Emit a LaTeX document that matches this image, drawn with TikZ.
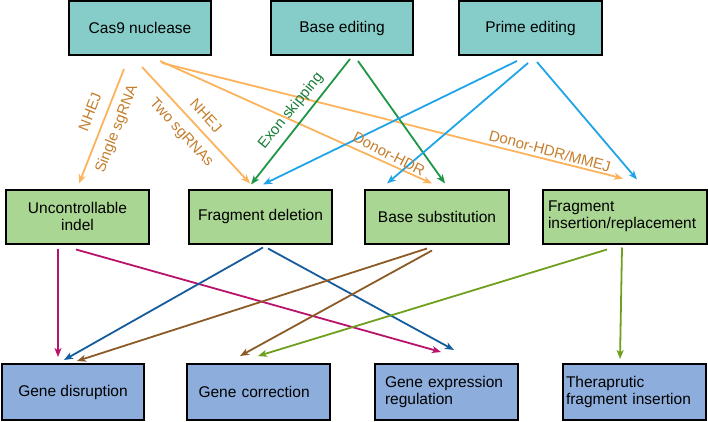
\documentclass[tikz,border=0pt]{standalone}
\usepackage{fontspec}
\setmainfont{Liberation Sans}
\usetikzlibrary{arrows.meta}
\definecolor{topfill}{HTML}{86CDCA}
\definecolor{midfill}{HTML}{A9D692}
\definecolor{botfill}{HTML}{8DAEDC}
\definecolor{corange}{HTML}{FBB45C}
\definecolor{lorange}{HTML}{C47E2C}
\definecolor{cgreen}{HTML}{1E9646}
\definecolor{lgreen}{HTML}{1A7E3A}
\definecolor{cblue}{HTML}{20A4E8}
\definecolor{cmag}{HTML}{B8126A}
\definecolor{cdblue}{HTML}{145C9C}
\definecolor{cbrown}{HTML}{8B5A25}
\definecolor{colive}{HTML}{6E9F1E}
\tikzset{
  box/.style={draw=black, line width=2pt, minimum height=54pt, inner sep=0pt,
    font=\fontsize{15.5}{17.5}\selectfont, align=center},
  topbox/.style={box, fill=topfill},
  midbox/.style={box, fill=midfill},
  botbox/.style={box, fill=botfill},
  conn/.style={line width=1.8pt, -{Stealth[length=9pt,width=7pt,inset=2.5pt]}},
  lbl/.style={font=\fontsize{15}{17}\selectfont, inner sep=0pt},
}
\begin{document}
\begin{tikzpicture}[x=1pt,y=-1pt]
\useasboundingbox (0,0) rectangle (708,422);
% top
\node[topbox, minimum width=142pt] (cas) at (140,28) {Cas9 nuclease};
\node[topbox, minimum width=142pt] (base) at (342,28) {Base editing};
\node[topbox, minimum width=143pt] (prime) at (530.5,28) {Prime editing};
% middle
\node[midbox, minimum width=143pt] (unc) at (77.5,216.5) {Uncontrollable\\indel};
\node[midbox, minimum width=143pt] (del) at (260.5,216.5) {Fragment deletion};
\node[midbox, minimum width=144pt] (sub) at (437,216.5) {Base substitution};
\node[midbox, minimum width=164pt, align=left, text width=154pt] (ins) at (625,216.5) {Fragment\\insertion/replacement};
% bottom
\node[botbox, minimum width=142pt, minimum height=56pt] (dis) at (73,392) {Gene disruption};
\node[botbox, minimum width=143pt, minimum height=56pt, align=left, text width=120pt] (cor) at (258.5,392) {Gene correction};
\node[botbox, minimum width=143pt, minimum height=56pt, align=left, text width=123pt] (expr) at (446.5,392) {Gene expression\\regulation};
\node[botbox, minimum width=143pt, minimum height=56pt, align=left, text width=137pt] (ther) at (634.5,392) {Theraprutic\\fragment insertion\\[4pt]};
% Cas9 arrows
\draw[conn, corange] ([xshift=-16pt,yshift=-13pt]cas.south) -- ([xshift=1.5pt,yshift=5pt]unc.north);
\draw[conn, corange] ([xshift=2pt,yshift=-11pt]cas.south) -- ([xshift=-10.5pt,yshift=5pt]del.north);
\draw[conn, corange] ([xshift=20pt,yshift=-5pt]cas.south) -- ([xshift=-5pt,yshift=5pt]sub.north);
\draw[conn, corange] ([xshift=22pt,yshift=-7pt]cas.south) -- ([xshift=-2pt,yshift=10pt]ins.north);
% Base editing arrows
\draw[conn, cgreen] ([xshift=8pt,yshift=-3pt]base.south) -- ([xshift=-9.5pt,yshift=4pt]del.north);
\draw[conn, cgreen] ([xshift=16pt,yshift=-5pt]base.south) -- ([xshift=8pt,yshift=5pt]sub.north);
% Prime editing arrows
\draw[conn, cblue] ([xshift=-13.5pt,yshift=-5pt]prime.south) -- ([xshift=2.5pt,yshift=4pt]del.north);
\draw[conn, cblue] ([xshift=-2.5pt,yshift=-7pt]prime.south) -- ([xshift=-50pt,yshift=5pt]sub.north);
\draw[conn, cblue] ([xshift=6.5pt,yshift=-6pt]prime.south) -- ([xshift=12pt,yshift=9pt]ins.north);
% labels
\node[lbl, lorange, rotate=69] (l1) at (90,112) {NHEJ};
\node[lbl, lorange, rotate=69] (l2) at (117,129) {Single sgRNA};
\node[lbl, lorange, rotate=-47.5] (l3) at (181,133) {Two sgRNAs};
\node[lbl, lorange, rotate=-47.5] (l4) at (206,116) {NHEJ};
\node[lbl, lgreen, rotate=51] (l5) at (291,111) {Exon skipping};
\node[lbl, lorange, rotate=-27] (l6) at (389,154) {Donor-HDR};
\node[lbl, lorange, rotate=-15] (l7) at (550,151) {Donor-HDR/MMEJ};
% middle to bottom
\draw[conn, cmag] ([xshift=-19.5pt,yshift=-4pt]unc.south) -- ([xshift=-15pt,yshift=6pt]dis.north);
\draw[conn, cmag] ([xshift=-1.5pt,yshift=-5pt]unc.south) -- ([xshift=-5.5pt,yshift=11pt]expr.north);
\draw[conn, cdblue] ([xshift=2.5pt,yshift=-3pt]del.south) -- ([xshift=-9pt,yshift=3pt]dis.north);
\draw[conn, cdblue] ([xshift=7.5pt,yshift=-4pt]del.south) -- ([xshift=7.5pt,yshift=13pt]expr.north);
\draw[conn, cbrown] ([xshift=-10pt,yshift=-4pt]sub.south) -- ([xshift=4pt,yshift=2pt]dis.north);
\draw[conn, cbrown] ([xshift=-5pt,yshift=-6pt]sub.south) -- ([xshift=-18.5pt,yshift=7pt]cor.north);
\draw[conn, colive] ([xshift=-18pt,yshift=-5pt]ins.south) -- ([xshift=-0.5pt,yshift=7pt]cor.north);
\draw[conn, colive] ([xshift=-3pt,yshift=-3pt]ins.south) -- ([xshift=-14.5pt,yshift=4pt]ther.north);
\end{tikzpicture}
\end{document}
